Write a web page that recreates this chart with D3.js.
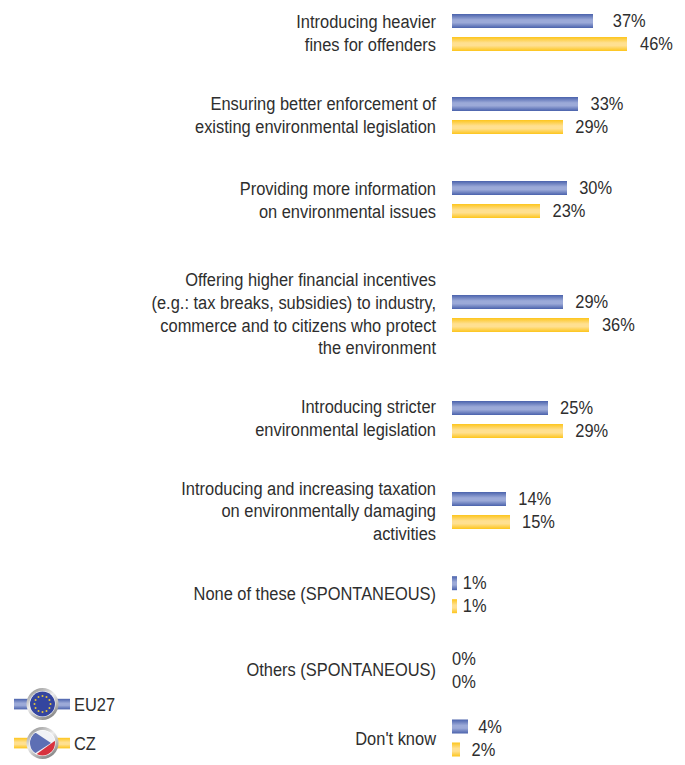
<!DOCTYPE html>
<html><head><meta charset="utf-8">
<script src="https://cdn.jsdelivr.net/npm/d3@7"></script>
<style>html,body{margin:0;padding:0;background:#fff}svg{display:block}text{font-family:"Liberation Sans",Arial,sans-serif;fill:#2e2e2e}</style>
</head><body><div id="c"></div>
<script>
const categories = [
 ["Introducing heavier","fines for offenders"],
 ["Ensuring better enforcement of","existing environmental legislation"],
 ["Providing more information","on environmental issues"],
 ["Offering higher financial incentives","(e.g.: tax breaks, subsidies) to industry,","commerce and to citizens who protect","the environment"],
 ["Introducing stricter","environmental legislation"],
 ["Introducing and increasing taxation","on environmentally damaging","activities"],
 ["None of these (SPONTANEOUS)"],
 ["Others (SPONTANEOUS)"],
 ["Don't know"]
];
const eu27 = [37,33,30,29,25,14,1,0,4];
const cz = [46,29,23,36,29,15,1,0,2];
const seriesNames = ["EU27","CZ"];

const W=685,H=765,fs=19,sx=0.865,lh=22.7,base=6.7;
const svg=d3.select("#c").append("svg").attr("width",W).attr("height",H);
const defs=svg.append("defs");
function grad(id,edge,mid){
  const g=defs.append("linearGradient").attr("id",id).attr("x1",0).attr("x2",0).attr("y1",0).attr("y2",1);
  [[0,edge],[.42,mid],[.62,mid],[1,edge]].forEach(([o,c])=>g.append("stop").attr("offset",o).attr("stop-color",c));
}
grad("gEU","#4a62ac","#9caad8");
grad("gCZ","#fdc51c","#ffe091");
const x=d3.scaleLinear().domain([0,46]).range([452,627]);
const y=d3.scaleLinear().domain(d3.range(9)).range([32.5,115.5,199.5,313.5,419.5,510.5,594.7,670.7,738]);
const yLabel=d3.scaleLinear().domain(d3.range(9)).range([33,115,200,314,418.5,511,593.5,669.5,738.5]);
const bh=14, gap=11.5;
const nudge={eu:{0:7,8:-2},cz:{8:-1}};
const barWidth=v=>Math.max(5,Math.ceil(x(v)-x(0)));
function series(data,cls,fill,dy){
  const g=svg.append("g").attr("class",cls);
  const rows=data.map((v,i)=>({v,i}));
  g.selectAll("rect").data(rows.filter(d=>d.v>0)).join("rect")
   .attr("x",x(0)).attr("y",d=>y(d.i)+dy-bh/2).attr("width",d=>barWidth(d.v)).attr("height",bh).attr("fill",fill);
  g.selectAll("text").data(rows).join("text")
   .attr("transform",d=>{
     const off=d.v===0?0:(d.v===1?7:13)+((nudge[cls]&&nudge[cls][d.i])||0);
     return `translate(${x(d.v)+off},${y(d.i)+dy+base-0.5}) scale(${sx},1)`;})
   .attr("font-size",fs).text(d=>d.v+"%");
}
series(eu27,"eu","url(#gEU)",-gap);
series(cz,"cz","url(#gCZ)",gap);
svg.append("g").selectAll("g").data(categories).join("g").each(function(lines,i){
  const n=lines.length;
  d3.select(this).selectAll("text").data(lines).join("text")
   .attr("text-anchor","end")
   .attr("transform",(l,k)=>`translate(436,${yLabel(i)+(k-(n-1)/2)*lh+base-0.5}) scale(${sx},1)`)
   .attr("font-size",fs).text(l=>l);
});
// legend
function legend(cy,name,fill,draw,id){
  const g=svg.append("g");
  g.append("rect").attr("x",14).attr("y",cy-5.2).attr("width",56).attr("height",10.6).attr("fill",fill);
  const ring=defs.append("linearGradient").attr("id","ring"+id).attr("x1",0).attr("x2",.6).attr("y1",0).attr("y2",1);
  ring.append("stop").attr("offset",0).attr("stop-color","#7d7d7d");
  ring.append("stop").attr("offset",.5).attr("stop-color","#ededed");
  ring.append("stop").attr("offset",1).attr("stop-color","#8a8a8a");
  g.append("circle").attr("cx",42.5).attr("cy",cy).attr("r",16).attr("fill",`url(#ring${id})`);
  g.append("circle").attr("cx",42.5).attr("cy",cy).attr("r",13).attr("fill","#fff");
  draw(g);
  g.append("text").attr("transform",`translate(74,${cy+base}) scale(${sx},1)`).attr("font-size",fs).text(name);
}
legend(704,seriesNames[0],"url(#gEU)",g=>{
  g.append("circle").attr("cx",42.5).attr("cy",704).attr("r",12.5).attr("fill","#34459f");
  g.selectAll("circle.star").data(d3.range(12)).join("circle").attr("class","star")
   .attr("cx",d=>42.5+8*Math.cos(d*Math.PI/6)).attr("cy",d=>704+8*Math.sin(d*Math.PI/6))
   .attr("r",1).attr("fill","#e2c53c");
},"a");
legend(743,seriesNames[1],"url(#gCZ)",g=>{
  defs.append("clipPath").attr("id","czclip").append("circle").attr("cx",42.5).attr("cy",743).attr("r",12.5);
  const f=g.append("g").attr("clip-path","url(#czclip)");
  f.append("rect").attr("x",30).attr("y",730).attr("width",26).attr("height",26).attr("fill","#f1f2f6");
  f.append("path").attr("d",d3.line()([[34,756],[56,740],[56,756]])).attr("fill","#d8323e");
  f.append("path").attr("d",d3.line()([[29,733],[36,733],[51,743],[34,754],[29,754]])).attr("fill","#5d6fb4");
},"b");
</script></body></html>
